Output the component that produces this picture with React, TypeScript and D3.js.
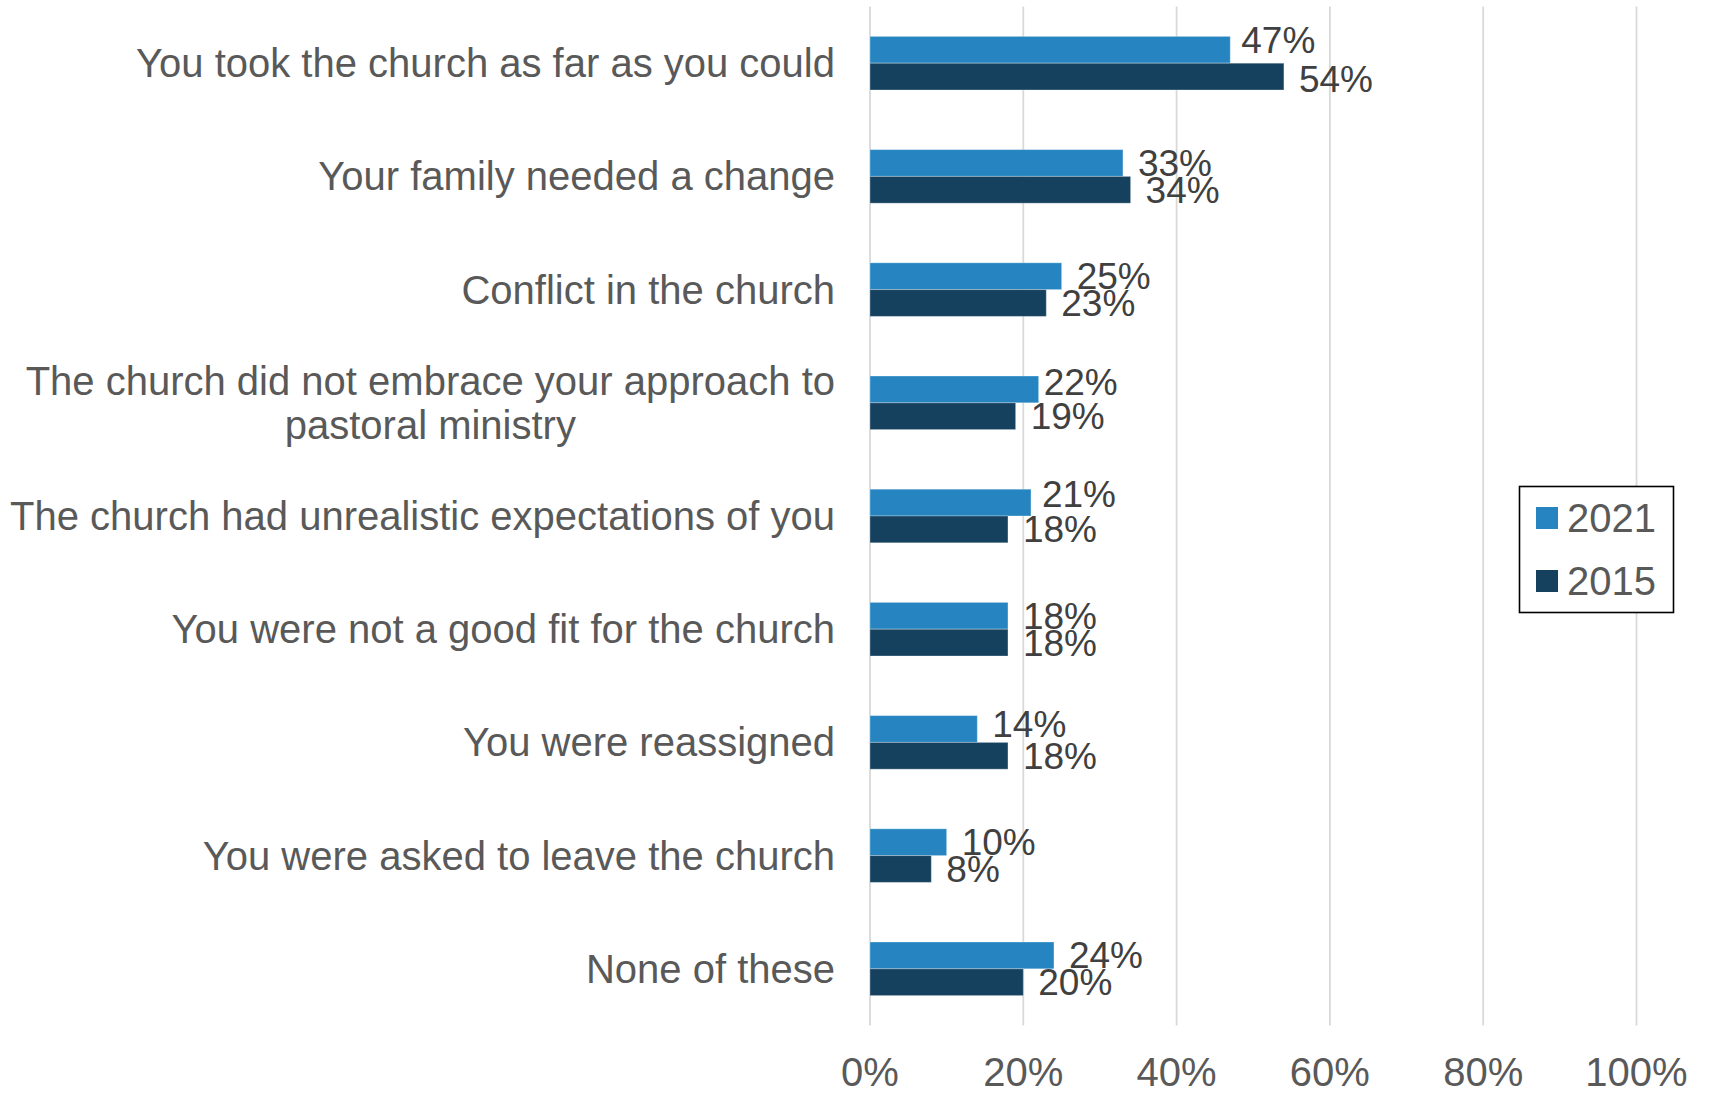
import React, { useMemo } from 'react';
import * as d3 from 'd3';

// ---------- data ----------
const categories: string[] = [
  'You took the church as far as you could',
  'Your family needed a change',
  'Conflict in the church',
  'The church did not embrace your approach to pastoral ministry',
  'The church had unrealistic expectations of you',
  'You were not a good fit for the church',
  'You were reassigned',
  'You were asked to leave the church',
  'None of these',
];
const values2021: number[] = [0.47, 0.33, 0.25, 0.22, 0.21, 0.18, 0.14, 0.1, 0.24];
const values2015: number[] = [0.54, 0.34, 0.23, 0.19, 0.18, 0.18, 0.18, 0.08, 0.2];
const seriesNames: string[] = ['2021', '2015'];
const xTicks: number[] = [0, 0.2, 0.4, 0.6, 0.8, 1];

// ---------- layout / style ----------
const W = 1709;
const H = 1095;
const FONT = "'Liberation Sans', Arial, sans-serif";
const colors: Record<string, string> = { '2021': '#2685C1', '2015': '#15415F' };
const X0 = 870;
const X1 = 1636.5;
const Y0 = 6.6;
const Y1 = 1025.4;
const LABEL_RIGHT = 835;
const LABEL_MAX_W = 834;
// manual nudges of value labels (as in the source chart), keyed by row index
const labelNudge: Record<string, Record<number, [number, number]>> = {
  '2021': { 0: [-4, -10], 3: [-10, -7], 4: [-4, -9], 6: [0, -5] },
  '2015': { 0: [0, 2] },
};

function measurer(font: string) {
  const canvas = document.createElement('canvas');
  const ctx = canvas.getContext('2d');
  if (ctx) ctx.font = font;
  return (s: string) => (ctx ? ctx.measureText(s).width : s.length * 20);
}

function wrapText(text: string, maxW: number, measure: (s: string) => number): string[] {
  const words = text.split(' ');
  const lines: string[] = [];
  let cur = '';
  for (const w of words) {
    const test = cur ? cur + ' ' + w : w;
    if (measure(test) > maxW && cur) {
      lines.push(cur);
      cur = w;
    } else {
      cur = test;
    }
  }
  if (cur) lines.push(cur);
  return lines;
}

export default function App() {
  const x = d3.scaleLinear().domain([0, 1]).range([X0, X1]);
  const p = 0.5265;
  const y = d3.scaleBand<string>().domain(categories).range([Y0, Y1]).paddingInner(p).paddingOuter(p / 2);
  const ySub = d3.scaleBand<string>().domain(seriesNames).range([0, y.bandwidth()]).padding(0);
  const seriesValues: Record<string, number[]> = { '2021': values2021, '2015': values2015 };

  const wrapped = useMemo(() => {
    const m = measurer(`40px ${FONT}`);
    return categories.map((c) => {
      const lines = wrapText(c, LABEL_MAX_W, m);
      const maxW = Math.max(...lines.map(m));
      return { lines, center: LABEL_RIGHT - maxW / 2 };
    });
  }, []);

  const fmt = d3.format('.0%');
  const lineH = 44;

  return (
    <svg
      width={W}
      height={H}
      style={{ position: 'absolute', left: 0, top: 0, background: '#fff' }}
      fontFamily={FONT}
    >
      <rect x={0} y={0} width={W} height={H} fill="#fff" />
      {/* gridlines */}
      {xTicks.map((t) => (
        <line
          key={'g' + t}
          x1={x(t)}
          x2={x(t)}
          y1={Y0}
          y2={Y1}
          stroke="#D9D9D9"
          strokeWidth={1.8}
        />
      ))}
      {/* bars */}
      {categories.map((c, i) =>
        seriesNames.map((s) => {
          const v = seriesValues[s][i];
          const by = (y(c) as number) + (ySub(s) as number);
          return (
            <rect
              key={c + s}
              x={x(0)}
              y={by}
              width={x(v) - x(0)}
              height={ySub.bandwidth()}
              fill={colors[s]}
              stroke="rgba(255,255,255,0.3)"
              strokeWidth={1}
            />
          );
        })
      )}
      {/* value labels */}
      {categories.map((c, i) =>
        seriesNames.map((s) => {
          const v = seriesValues[s][i];
          const cy = (y(c) as number) + (ySub(s) as number) + ySub.bandwidth() / 2;
          const n = labelNudge[s][i] || [0, 0];
          return (
            <text
              key={'l' + c + s}
              x={x(v) + 15 + n[0]}
              y={cy + n[1]}
              dy="0.35em"
              fontSize={37}
              fill="#404040"
            >
              {fmt(v)}
            </text>
          );
        })
      )}
      {/* category labels */}
      {categories.map((c, i) => {
        const { lines, center } = wrapped[i];
        const cy = (y(c) as number) + y.bandwidth() / 2;
        const startY = cy - ((lines.length - 1) * lineH) / 2;
        const multi = lines.length > 1;
        return (
          <text
            key={'c' + c}
            x={multi ? center : LABEL_RIGHT}
            y={startY}
            textAnchor={multi ? 'middle' : 'end'}
            fontSize={40}
            fill="#595959"
          >
            {lines.map((ln, k) => (
              <tspan
                key={k}
                x={multi ? center : LABEL_RIGHT}
                dy={k === 0 ? '0.35em' : lineH}
              >
                {ln}
              </tspan>
            ))}
          </text>
        );
      })}
      {/* x tick labels */}
      {xTicks.map((t) => (
        <text
          key={'t' + t}
          x={x(t)}
          y={1086}
          textAnchor="middle"
          fontSize={40}
          fill="#595959"
        >
          {fmt(t)}
        </text>
      ))}
      {/* legend */}
      <g>
        <rect x={1519.5} y={486.5} width={154} height={126} fill="#fff" stroke="#000" strokeWidth={1.6} />
        {seriesNames.map((s, k) => {
          const cy = 518 + k * 63;
          return (
            <g key={'lg' + s}>
              <rect x={1536} y={cy - 11} width={22} height={22} fill={colors[s]} />
              <text x={1567} y={cy} dy="0.35em" fontSize={40} fill="#595959">
                {s}
              </text>
            </g>
          );
        })}
      </g>
    </svg>
  );
}
